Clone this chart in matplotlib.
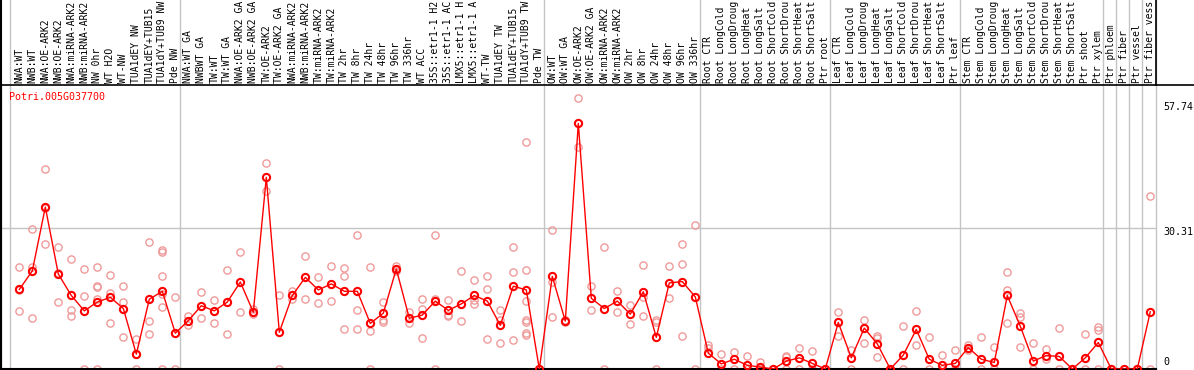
import matplotlib
matplotlib.use("Agg")
import matplotlib.pyplot as plt
import matplotlib.transforms as mtrans

gene = "Potri.005G037700"

# sample names as shown (the source cuts them at 14 characters)
samples = [
    "NWA:WT", "NWB:WT", "NWA:OE-ARK2", "NWB:OE-ARK2", "NWA:miRNA-ARK2", "NWB:miRNA-ARK2",
    "NW 0hr", "WT H2O", "WT-NW", "TUA1dEY NW", "TUA1dEY+TUB15", "TUA1dY+TUB9 NW", "Pde NW",
    "NWA:WT GA", "NWBWT GA", "TW:WT", "TW:WT GA", "NWA:OE-ARK2 GA", "NWB:OE-ARK2 GA",
    "TW:OE-ARK2", "TW:OE-ARK2 GA", "NWA:miRNA-ARK2", "NWB:miRNA-ARK2", "TW:miRNA-ARK2",
    "TW:miRNA-ARK2", "TW 2hr", "TW 8hr", "TW 24hr", "TW 48hr", "TW 96hr", "TW 336hr", "WT ACC",
    "35S::etr1-1 H2", "35S::etr1-1 AC", "LMX5::etr1-1 H", "LMX5::etr1-1 A", "WT-TW",
    "TUA1dEY TW", "TUA1dEY+TUB15", "TUA1dY+TUB9 TW", "Pde TW",
    "OW:WT", "OW:WT GA", "OW:OE-ARK2", "OW:OE-ARK2 GA", "OW:miRNA-ARK2", "OW:miRNA-ARK2",
    "OW 2hr", "OW 8hr", "OW 24hr", "OW 48hr", "OW 96hr", "OW 336hr",
    "Root CTR", "Root LongCold", "Root LongDroug", "Root LongHeat", "Root LongSalt",
    "Root ShortCold", "Root ShortDrou", "Root ShortHeat", "Root ShortSalt", "Ptr root",
    "Leaf CTR", "Leaf LongCold", "Leaf LongDroug", "Leaf LongHeat", "Leaf LongSalt",
    "Leaf ShortCold", "Leaf ShortDrou", "Leaf ShortHeat", "Leaf ShortSalt", "Ptr leaf",
    "Stem CTR", "Stem LongCold", "Stem LongDroug", "Stem LongHeat", "Stem LongSalt",
    "Stem ShortCold", "Stem ShortDrou", "Stem ShortHeat", "Stem ShortSalt", "Ptr shoot",
    "Ptr xylem", "Ptr phloem", "Ptr fiber", "Ptr vessel", "Ptr fiber vess",
]

# index of last sample in each group
group_ends = [12, 40, 52, 62, 72, 83, 84, 85, 86]

means = [
    17.1, 21.1, 34.8, 20.4, 15.8, 12.5, 14.4, 15.4, 13.0, 3.2, 15.0, 16.7, 7.7,
    10.4, 13.6, 12.5, 14.4, 18.7, 12.2, 41.2, 7.9, 15.8, 19.7, 17.0, 18.3, 16.7, 16.7,
    9.8, 12.0, 21.5, 10.9, 11.6, 14.6, 12.6, 14.0, 15.8, 14.6, 9.4, 17.8, 17.0, 0.0,
    19.9, 10.3, 52.8, 15.2, 13.0, 14.6, 11.8, 16.6, 6.8, 18.5, 18.8, 15.5,
    3.4, 1.1, 2.1, 0.8, 0.4, 0.0, 1.7, 2.4, 1.2, 0.0,
    10.0, 2.4, 8.8, 5.4, 0.0, 3.0, 8.5, 2.1, 0.8, 1.2,
    4.6, 2.1, 1.4, 15.8, 9.2, 1.7, 2.9, 2.7, 0.0, 2.4, 5.7,
    0.0, 0.0, 0.0, 12.3,
]

replicates = [
    [21.9, 12.5, 16.9], [30.1, 21.9, 11.0], [43.0, 26.8, 34.6], [26.2, 14.4, 20.6],
    [23.6, 12.7, 11.5], [21.6, 15.6, 0.0], [21.9, 17.8, 17.6, 15.0, 0.0],
    [20.3, 16.4, 9.9], [17.8, 14.3, 6.9], [6.4, 0.0, 3.2], [27.2, 10.3, 7.5],
    [25.1, 25.5, 20.0, 16.1, 13.3, 0.0], [15.4, 0.0, 7.7],
    [11.5, 9.4], [16.5, 11.0], [14.8, 9.9], [21.2, 7.5], [25.1, 12.2], [12.9, 11.8],
    [44.3, 38.3], [15.8, 0.0], [16.8, 15.1], [24.3, 15.1], [19.7, 14.1], [22.1, 14.6],
    [21.7, 19.9, 8.7], [28.7, 12.6, 8.7], [21.9, 8.1, 0.0], [14.4, 10.5, 10.1],
    [22.2, 21.0], [12.3, 9.8], [15.0, 13.0, 6.7], [28.8, 15.0, 0.0], [14.8, 11.4, 11.6],
    [21.0, 10.3], [19.1, 14.8, 13.9], [20.0, 17.1, 6.4], [12.6, 10.5, 5.6],
    [26.2, 20.8, 6.2], [48.7, 21.2, 14.6, 10.1, 10.5, 7.4, 7.8], [0.0],
    [29.9, 18.8, 11.1], [10.5, 10.1], [58.2, 47.7], [17.8, 12.6], [26.2, 0.0],
    [16.8, 12.3], [13.8, 9.6], [22.3, 15.4, 11.5], [10.5, 10.1, 0.0], [22.1, 15.2],
    [26.9, 22.6, 7.2], [31.0, 0.0],
    [5.2, 4.6], [3.2, 0.0], [3.7, 0.0], [2.9, 0.0], [1.6, 0.0], [0.0], [2.9, 2.6, 0.0],
    [4.5, 0.0], [3.9, 0.0], [0.0],
    [12.3, 7.2], [4.1, 0.0], [10.5, 5.6], [7.2, 6.6, 2.6], [0.0], [9.2, 0.0],
    [12.5, 5.1], [6.9, 0.0], [3.0, 0.0], [4.1, 0.0],
    [5.2, 4.1], [6.9, 0.0], [4.7, 0.0], [20.9, 17.0, 9.9], [12.0, 11.2, 4.7],
    [5.6, 0.0], [4.4, 2.1], [8.8, 0.0], [0.0], [7.5, 0.0], [9.0, 8.3, 0.0],
    [0.0], [0.0], [0.0], [37.1, 0.0],
]

ticks = [57.74, 30.31, 0]

W, H = 1194, 370
fig = plt.figure(figsize=(W / 100, H / 100), dpi=100)
# plot box: x 1..1156, y 85..369 (pixels from top)
ax = fig.add_axes([1 / W, 1 / H, 1155 / W, 284 / H])
ax.set_xlim(-1.41, 87.44)
ax.set_ylim(0, 61.05)
ax.set_xticks([])
ax.set_yticks([])
for s in ["top", "right"]:
    ax.spines[s].set_visible(False)
for s in ["left", "bottom"]:
    ax.spines[s].set_color("black")
    ax.spines[s].set_linewidth(1.5)

grey = "#c4c4c4"
ax.axhline(30.31, color=grey, lw=1, zorder=1)
top_frac = 369 / 284
ax.axvline(-0.69, 0, top_frac, color=grey, lw=1, clip_on=False, zorder=1)
for k in group_ends:
    ax.axvline(k + 0.385, 0, top_frac, color=grey, lw=1, clip_on=False, zorder=1)
ax.axvline(87.44, 0, top_frac, color=grey, lw=1, clip_on=False, zorder=1)

# border lines of the label area
fig.add_artist(plt.Line2D([0, 1], [1 - 85 / H, 1 - 85 / H], color="black", lw=1.2,
                          transform=fig.transFigure))
fig.add_artist(plt.Line2D([1156 / W, 1156 / W], [1 - 85 / H, 1], color="black", lw=1.2,
                          transform=fig.transFigure))
fig.add_artist(plt.Line2D([1 / W, 1 / W], [0, 1], color="black", lw=1.5,
                          transform=fig.transFigure))

xs = list(range(len(samples)))
for i, reps in enumerate(replicates):
    ax.plot([i] * len(reps), reps, linestyle="none", marker="o", ms=5.2, mfc="none",
            mec="#ef9a9a", mew=1.0, zorder=2)
ax.plot(xs, means, color="red", lw=1, marker="o", ms=5.2, mfc="none", mec="red",
        mew=1.5, zorder=3)

mono = "DejaVu Sans Mono"
trans = mtrans.blended_transform_factory(ax.transData, ax.transAxes)
for i, name in enumerate(samples):
    ax.text(i, 1 + 2 / 284, name, rotation=90, ha="center", va="bottom",
            transform=trans, clip_on=False, fontsize=7.0, family=mono, color="black")

fig.text(9 / W, 1 - 97 / H, gene, color="red", fontsize=7.2, family=mono,
         ha="left", va="center")

for t, yc in zip(ticks, [107, 232, 362]):
    lab = "0" if t == 0 else "%.2f" % t
    fig.text(1163 / W, 1 - yc / H, lab, fontsize=7.2, family=mono, ha="left",
             va="center", color="black")

fig.savefig("out.png", dpi=100)
